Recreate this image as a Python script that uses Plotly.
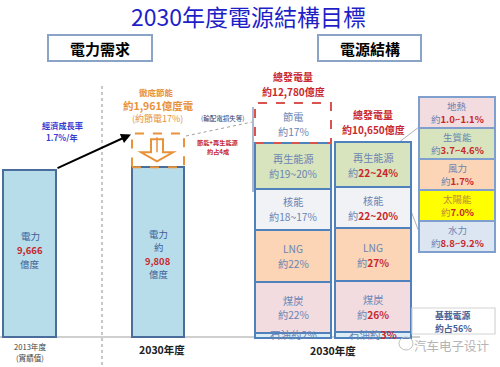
import plotly.graph_objects as go

# ---------------- data ----------------
title_text = "2030年度電源結構目標"
panel_titles = ["電力需求", "電源結構"]
period_labels = [["2013年度", "(實績值)"], ["2030年度"]]
demand_values = [9666, 9808]          # 億度
demand_labels = ["9,666", "9,808"]
saving_value = 1961                   # 億度
saving_pct = 17
growth_rate = "1.7%/年"

gen_totals = [12780, 10650]           # 億度
gen_labels = ["約12,780億度", "約10,650億度"]
mix_keys = ["石油", "煤炭", "LNG", "核能", "再生能源"]
mix_a_pct = [2, 22, 22, 17.5, 19.5]
mix_a_text = ["2%", "22%", "22%", "18~17%", "19~20%"]
mix_a_saving_pct = 17
mix_b_pct = [3, 26, 27, 21, 23]
mix_b_text = ["3%", "26%", "27%", "22~20%", "22~24%"]

renew_keys = ["地熱", "生質能", "風力", "太陽能", "水力"]
renew_text = ["1.0~1.1%", "3.7~4.6%", "1.7%", "7.0%", "8.8~9.2%"]
baseload_pct = "56%"

# ---------------- style ----------------
FONT = "Noto Sans CJK TC, Noto Sans, sans-serif"
RED = "#c8282d"
ORANGE = "#e8923a"
BOXTXT = "#6b84b4"
BORDER = "#4f81bd"
mix_colors = ["#dbeef6", "#f2dcdf", "#fbd5b6", "#f1f2f6", "#d8e4bd"]
renew_colors = ["#f2dcdf", "#d8e4bd", "#fbd5b6", "#ffff00", "#dce6f2"]

W, H = 500, 367
s1 = 0.0173                 # px per 億度, left panel
base1 = 337
s2 = 235 / gen_totals[0]    # px per 億度, right panel
base2 = 338

def py1(v):
    return base1 - v * s1

def py2(v):
    return base2 - v * s2

fig = go.Figure()
shapes = []
ann = []

def txt(x, y, text, size=11, color="black", **kw):
    d = dict(x=x, y=y, xref="x", yref="y", text=text, showarrow=False, borderpad=0,
             font=dict(family=FONT, size=size, color=color))
    d.update(kw)
    ann.append(d)

def lines(x, yc, items, gap, size=11, color="black"):
    n = len(items)
    for i, it in enumerate(items):
        txt(x, yc + (i - (n - 1) / 2) * gap, it, size=size, color=color)

def red(s):
    return "<b><span style='color:%s'>%s</span></b>" % (RED, s)

# title
txt(248, 16, title_text, size=23, color="#1f1fc8")

# panel headers
for (x0, x1), t in zip([(48, 152), (318, 421)], panel_titles):
    shapes.append(dict(type="rect", xref="x", yref="y", x0=x0, x1=x1, y0=35, y1=61,
                       line=dict(color="#8aa4c8", width=2), fillcolor="white"))
    txt((x0 + x1) / 2, 48, "<b>%s</b>" % t, size=15)

# baseline and separator
shapes.append(dict(type="line", xref="x", yref="y", x0=0, x1=420, y0=337, y1=337,
                   line=dict(color="#a0a0a0", width=1), layer="below"))
shapes.append(dict(type="line", xref="x", yref="y", x0=102, x1=102, y0=86, y1=367,
                   line=dict(color="#909090", width=1, dash="dot"), layer="below"))

# ---------- left panel: demand bars ----------
bar_x = [29.5, 158]
fig.add_trace(go.Bar(x=bar_x, y=demand_values, width=[53, 52], yaxis="y2",
                     marker=dict(color="#b7dcea", line=dict(color="#4a6d9b", width=2)),
                     hoverinfo="skip", showlegend=False))
# saving dashed box on top of 2030 demand
shapes.append(dict(type="rect", xref="x", yref="y2", x0=132, x1=184,
                   y0=demand_values[1], y1=demand_values[1] + saving_value,
                   line=dict(color=ORANGE, width=2, dash="dash")))
top_sav = py1(demand_values[1] + saving_value)
ay = py1(demand_values[1] + saving_value / 2)
# hollow down arrow
shapes.append(dict(type="path", xref="x", yref="y",
                   path="M 151 %f L 163 %f L 163 %f L 173 %f L 157 %f L 141 %f L 151 %f Z" % (
                       ay - 11, ay - 11, ay + 2, ay + 2, ay + 11, ay + 2, ay + 2),
                   line=dict(color=ORANGE, width=2), fillcolor="white"))
shapes.append(dict(type="line", xref="x", yref="y", x0=157, x1=157, y0=ay - 13, y1=ay + 2,
                   line=dict(color=ORANGE, width=1.5)))

lines(30, 250, ["電力", red(demand_labels[0]), "億度"], 13.8, size=9.5, color="#3f5f95")
lines(158, 254, ["電力", "約", red(demand_labels[1]), "億度"], 13.6, size=9.4, color="#3f5f95")
lines(30, 351.5, period_labels[0], 11, size=7.6, color="#404040")
txt(162, 349, "<b>%s</b>" % period_labels[1][0], size=10.5, color="#202020")

# growth arrow
ann.append(dict(x=131, y=top_sav + 1, ax=56, ay=py1(demand_values[0]) - 1, xref="x", yref="y",
                axref="x", ayref="y", text="", showarrow=True, arrowhead=2, arrowsize=1,
                arrowwidth=2, arrowcolor="black"))
lines(62, 130.5, ["<b>經濟成長率</b>", "<b>%s</b>" % growth_rate], 12, size=8.2, color="#3a3ad0")

txt(156, 91.5, "<b>徹底節能</b>", size=8.5, color=ORANGE)
txt(158, 105, "<b>約1,961億度電</b>", size=10.5, color=ORANGE)
txt(157, 118.5, "(約節電%d%%)" % saving_pct, size=9, color=ORANGE)
txt(222, 118, "(輸配電損失等)", size=6.5, color="#2a3a70")
lines(218, 146.5, ["<b>節能+再生能源</b>", "<b>約占4成</b>"], 9, size=6.2, color=RED)
shapes.append(dict(type="line", xref="x", yref="y", x0=186, x1=252, y0=136, y1=122,
                   line=dict(color="#a0a0a0", width=1, dash="dot")))

# ---------- right panel: generation mix ----------
col_x = [293, 373]
col_w = 76
for ci, (pcts, texts) in enumerate([(mix_a_pct, mix_a_text), (mix_b_pct, mix_b_text)]):
    total = gen_totals[ci]
    vals = [total * p / 100 for p in pcts]
    bases = []
    acc = 0
    for v in vals:
        bases.append(acc)
        acc += v
    fig.add_trace(go.Bar(x=[col_x[ci]] * len(vals), y=vals, base=bases, width=col_w, yaxis="y3",
                         marker=dict(color=mix_colors, line=dict(color=BORDER, width=2)),
                         hoverinfo="skip", showlegend=False))
    for k, (key, t, b, v) in enumerate(zip(mix_keys, texts, bases, vals)):
        val = t if ci == 0 else red(t)
        yc = py2(b + v / 2)
        if k == 0:
            txt(col_x[ci], yc - 1, "%s約%s" % (key, val), size=10.5, color=BOXTXT)
        else:
            lines(col_x[ci], yc, [key, "約" + val], 14.8, size=10.2, color=BOXTXT)
    if ci == 0:
        sav = total * mix_a_saving_pct / 100
        shapes.append(dict(type="rect", xref="x", yref="y3", x0=col_x[0] - col_w / 2,
                           x1=col_x[0] + col_w / 2, y0=acc, y1=acc + sav,
                           line=dict(color="#d9534f", width=2, dash="dash")))
        lines(col_x[0], py2(acc + sav / 2) + 1, ["節電", "約%d%%" % mix_a_saving_pct], 14.8,
              size=10.2, color=BOXTXT)
    top_px = py2(total)
    lines(col_x[ci], top_px - 19 if ci == 0 else top_px - 20,
          ["<b>總發電量</b>", "<b>%s</b>" % gen_labels[ci]], 14.5, size=10, color=RED)

txt(333, 350, "<b>2030年度</b>", size=10.5, color="#202020")
# bracket left of column 1
shapes.append(dict(type="line", xref="x", yref="y", x0=253, x1=253, y0=107, y1=192,
                   line=dict(color="#8fa3c0", width=1.5)))

# connectors to breakdown
shapes.append(dict(type="line", xref="x", yref="y", x0=398, x1=419, y0=143, y1=127,
                   line=dict(color="#b0b0b0", width=1), layer="below"))
shapes.append(dict(type="line", xref="x", yref="y", x0=405, x1=419, y0=195, y1=232,
                   line=dict(color="#b0b0b0", width=1), layer="below"))

# renewable breakdown boxes
rtop, rbot = 97, 252
rh = (rbot - rtop) / len(renew_keys)
for i, (k, t) in enumerate(zip(renew_keys, renew_text)):
    y0 = rtop + i * rh
    shapes.append(dict(type="rect", xref="x", yref="y", x0=419, x1=495, y0=y0, y1=y0 + rh,
                       line=dict(color="#7f9fce", width=2), fillcolor=renew_colors[i]))
    col = "#c08a3a" if k == "太陽能" else BOXTXT
    lines(457, y0 + rh / 2, [k, "約" + red(t)], 13.8, size=9.5, color=col)

# baseload note
shapes.append(dict(type="rect", xref="x", yref="y", x0=412, x1=495, y0=308, y1=334,
                   line=dict(color="#d4d4d4", width=1.2)))
lines(453, 321.5, ["<b>基載電源</b>", "<b>約占%s</b>" % baseload_pct], 13, size=8.9, color="#4a5f95")

# watermark
shapes.append(dict(type="circle", xref="x", yref="y", x0=399, x1=413, y0=337, y1=350,
                   line=dict(color="#c0c0c0", width=1)))
ann.append(dict(x=451, y=345, xref="x", yref="y", text="汽车电子设计", showarrow=False,
                borderpad=0,
                font=dict(family="Noto Sans CJK SC, sans-serif", size=12.5, color="#b4b4b4")))

fig.update_layout(
    width=W, height=H, margin=dict(l=0, r=0, t=0, b=0),
    paper_bgcolor="white", plot_bgcolor="white",
    barmode="overlay", bargap=0,
    xaxis=dict(range=[0, W], visible=False, fixedrange=True),
    yaxis=dict(range=[H, 0], visible=False, fixedrange=True),
    yaxis2=dict(range=[-(H - base1) / s1, base1 / s1], overlaying="y", visible=False),
    yaxis3=dict(range=[-(H - base2) / s2, base2 / s2], overlaying="y", visible=False),
    shapes=shapes, annotations=ann, showlegend=False,
)
fig.write_html("out.html", config={"displayModeBar": False},
               post_script="document.body.style.margin='0';document.body.style.overflow='hidden';")
